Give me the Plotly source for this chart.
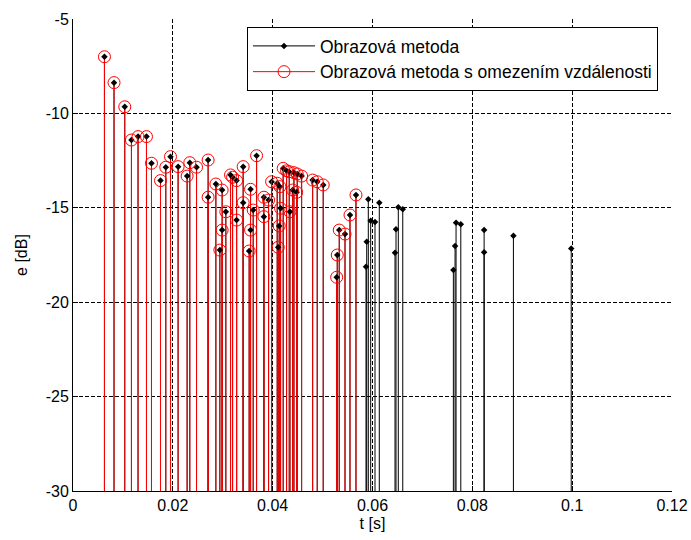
import plotly.graph_objects as go

# Data (t in seconds, e in dB)
red_t = [0.00630, 0.00822, 0.01037, 0.01171, 0.01303, 0.01472, 0.01572, 0.01753,
         0.01859, 0.01953, 0.02106, 0.02286, 0.02340, 0.02475, 0.02707, 0.02707,
         0.02862, 0.02988, 0.03062, 0.02988, 0.02942, 0.03156, 0.03197, 0.03277,
         0.03277, 0.03409, 0.03678, 0.03557, 0.03409, 0.03610, 0.03557, 0.03529,
         0.03824, 0.03918, 0.03979, 0.03824, 0.04091, 0.04145, 0.04211, 0.04279,
         0.04332, 0.04426, 0.04492, 0.04400, 0.04480, 0.04131, 0.04111, 0.04159,
         0.04346, 0.04580, 0.04801, 0.04893, 0.05013, 0.05669, 0.05549, 0.05334,
         0.05449, 0.05294, 0.05282]
red_e = [-7.00, -8.37, -9.65, -11.41, -11.23, -11.23, -12.64, -13.56,
         -12.85, -12.29, -12.82, -13.32, -12.61, -12.85, -12.47, -14.44,
         -13.74, -14.06, -15.21, -16.18, -17.24, -13.26, -13.38, -13.56,
         -15.65, -12.82, -12.24, -14.02, -14.73, -15.12, -16.18, -17.29,
         -14.44, -14.59, -13.62, -15.47, -13.70, -13.88, -12.91, -13.04,
         -13.09, -13.14, -13.21, -14.06, -14.18, -15.96, -17.09, -15.03,
         -15.21, -13.32, -13.53, -13.62, -13.79, -14.32, -15.38, -16.18,
         -16.39, -17.50, -18.68]

black_only_t = [0.05916, 0.06136, 0.05964, 0.06050, 0.05884, 0.05870, 0.06517,
                0.06606, 0.06471, 0.06451, 0.07674, 0.07769, 0.07654, 0.07620,
                0.08236, 0.08236, 0.08823, 0.09981]
black_only_e = [-14.55, -14.73, -15.68, -15.75, -16.80, -18.12, -14.97,
                -15.08, -16.14, -17.38, -15.79, -15.87, -17.02, -18.29,
                -16.18, -17.36, -16.48, -17.15]

black_t = red_t + black_only_t
black_e = red_e + black_only_e

base_value = -30
x_ticks = [0, 0.02, 0.04, 0.06, 0.08, 0.1, 0.12]
x_tick_labels = ["0", "0.02", "0.04", "0.06", "0.08", "0.1", "0.12"]
y_ticks = [-30, -25, -20, -15, -10, -5]
y_tick_labels = ["-30", "-25", "-20", "-15", "-10", "-5"]

name_black = "Obrazová metoda"
name_red = "Obrazová metoda s omezením vzdálenosti"


def stem_xy(ts, es, base):
    xs, ys = [], []
    for t, e in zip(ts, es):
        xs += [t, t, None]
        ys += [base, e, None]
    return xs, ys


FONT = "Liberation Sans, Arial, sans-serif"

fig = go.Figure()

bx, by = stem_xy(black_t, black_e, base_value)
rx, ry = stem_xy(red_t, red_e, base_value)

fig.add_trace(go.Scatter(x=bx, y=by, mode="lines", line=dict(color="black", width=1),
                         showlegend=False, hoverinfo="skip"))
fig.add_trace(go.Scatter(x=rx, y=ry, mode="lines", line=dict(color="#FF0000", width=1),
                         showlegend=False, hoverinfo="skip"))
fig.add_trace(go.Scatter(x=black_t, y=black_e, mode="markers",
                         marker=dict(symbol="diamond", size=5, color="black"),
                         showlegend=False))
fig.add_trace(go.Scatter(x=red_t, y=red_e, mode="markers",
                         marker=dict(symbol="circle-open", size=12, color="#FF0000",
                                     line=dict(width=1, color="#FF0000")),
                         showlegend=False))

# legend entries
fig.add_trace(go.Scatter(x=[None], y=[None], mode="lines+markers", name=name_black,
                         line=dict(color="black", width=1),
                         marker=dict(symbol="diamond", size=5, color="black")))
fig.add_trace(go.Scatter(x=[None], y=[None], mode="lines+markers", name=name_red,
                         line=dict(color="#FF0000", width=1),
                         marker=dict(symbol="circle-open", size=12, color="#FF0000",
                                     line=dict(width=1, color="#FF0000"))))

fig.update_layout(
    width=691, height=540,
    margin=dict(l=73, r=19, t=19, b=49),
    paper_bgcolor="white", plot_bgcolor="white",
    font=dict(family=FONT, size=16, color="black"),
    showlegend=True,
    legend=dict(x=0.2905, y=0.983, xanchor="left", yanchor="top",
                bgcolor="white", bordercolor="black", borderwidth=1,
                font=dict(family=FONT, size=17.5, color="black"),
                itemwidth=62, tracegroupgap=0),
    xaxis=dict(range=[0, 0.12], tickvals=x_ticks, ticktext=x_tick_labels,
               automargin=False,
               showline=True, linecolor="black", linewidth=1, mirror=False,
               ticks="inside", ticklen=5, tickcolor="black",
               showgrid=True, gridcolor="black", gridwidth=1, griddash="4px,2px",
               zeroline=False,
               title=dict(text="t [s]", font=dict(family=FONT, size=16), standoff=4)),
    yaxis=dict(range=[-30, -5], tickvals=y_ticks, ticktext=y_tick_labels,
               automargin=False,
               showline=True, linecolor="black", linewidth=1, mirror=False,
               ticks="inside", ticklen=5, tickcolor="black",
               showgrid=True, gridcolor="black", gridwidth=1, griddash="4px,2px",
               zeroline=False,
               title=dict(text="e [dB]", font=dict(family=FONT, size=16), standoff=14)),
)

fig.write_html("out.html")
